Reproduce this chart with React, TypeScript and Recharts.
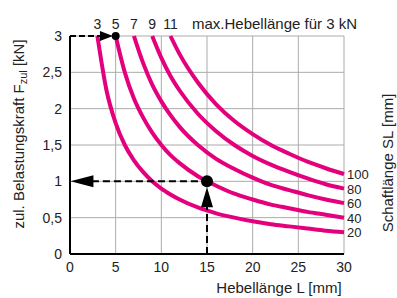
import {
  LineChart, Line, XAxis, YAxis, CartesianGrid,
  ReferenceLine, ReferenceDot, Label,
} from 'recharts'

// Hebellänge L [mm]
const LEVER = [3, 4, 5, 6, 7, 8, 9, 10, 11, 12, 14, 16, 18, 20, 22, 24, 26, 28, 30]

// zul. Belastungskraft per Schaftlänge SL
const SL20 = [3, 2.25, 1.8, 1.5, 1.29, 1.13, 1.0, 0.9, 0.82, 0.75, 0.64, 0.56, 0.5, 0.45, 0.41, 0.38, 0.35, 0.32, 0.3]
const SL40 = [null, null, 3, 2.5, 2.14, 1.88, 1.67, 1.5, 1.36, 1.25, 1.07, 0.94, 0.83, 0.75, 0.68, 0.63, 0.58, 0.54, 0.5]
const SL60 = [null, null, null, null, 3, 2.63, 2.33, 2.1, 1.91, 1.75, 1.5, 1.31, 1.17, 1.05, 0.95, 0.88, 0.81, 0.75, 0.7]
const SL80 = [null, null, null, null, null, null, 3, 2.7, 2.45, 2.25, 1.93, 1.69, 1.5, 1.35, 1.23, 1.13, 1.04, 0.96, 0.9]
const SL100 = [null, null, null, null, null, null, null, null, 3, 2.75, 2.36, 2.06, 1.83, 1.65, 1.5, 1.38, 1.27, 1.18, 1.1]

const SERIES = [
  { key: 's20', label: '20', values: SL20 },
  { key: 's40', label: '40', values: SL40 },
  { key: 's60', label: '60', values: SL60 },
  { key: 's80', label: '80', values: SL80 },
  { key: 's100', label: '100', values: SL100 },
]

// max. Hebellänge für 3 kN
const MAX_LEVER = [3, 5, 7, 9, 11]

const X_TICKS = [0, 5, 10, 15, 20, 25, 30]
const Y_TICKS = [0, 0.5, 1, 1.5, 2, 2.5, 3]

// worked example: L = 15 mm, SL = 40 -> 1 kN ; 3 kN -> L = 5 mm
const EXAMPLE = { x: 15, y: 1 }
const TOP_EXAMPLE = { x: 5, y: 3 }

const data = LEVER.map((x, i) => {
  const row: any = { x }
  SERIES.forEach((s) => { row[s.key] = s.values[i] })
  return row
})

const MAGENTA = '#e4007c'
const TEXT = '#222'
const FONT = '"Liberation Sans", Arial, sans-serif'
const tickStyle = { fontSize: 14, fill: TEXT, fontFamily: FONT }

const arrowRight = (p: any) => (
  <polygon points={`${p.cx},${p.cy} ${p.cx - 13},${p.cy - 5} ${p.cx - 13},${p.cy + 5}`} fill="#000" />
)
const arrowLeft = (p: any) => (
  <polygon points={`${p.cx},${p.cy} ${p.cx + 23},${p.cy - 6} ${p.cx + 23},${p.cy + 6}`} fill="#000" />
)
const arrowUp = (p: any) => (
  <polygon points={`${p.cx},${p.cy} ${p.cx - 6},${p.cy + 20} ${p.cx + 6},${p.cy + 20}`} fill="#000" />
)

// SL label at the right end of each curve
const endLabel = (text: string) => (p: any) => {
  if (p.index !== LEVER.length - 1) return null
  return (
    <text x={p.x + 3} y={p.y + 5} textAnchor="start" fontSize={13} fill={TEXT} fontFamily={FONT}>
      {text}
    </text>
  )
}

export default function App() {
  return (
    <div style={{ position: 'absolute', left: 0, top: 0, fontFamily: FONT }}>
      <LineChart
        width={397}
        height={298}
        data={data}
        margin={{ top: 16, right: 53, bottom: 20, left: 30 }}
      >
        <CartesianGrid stroke="#ababab" strokeWidth={1} />
        <XAxis
          dataKey="x"
          type="number"
          domain={[0, 30]}
          ticks={X_TICKS}
          tick={tickStyle}
          tickLine={false}
          axisLine={{ stroke: '#000', strokeWidth: 2 }}
          height={24}
        >
          <Label
            content={() => (
              <text x={279} y={293} textAnchor="middle" fontSize={15} fill={TEXT} fontFamily={FONT}>
                Hebellänge L [mm]
              </text>
            )}
          />
        </XAxis>
        <XAxis
          xAxisId="top"
          orientation="top"
          type="number"
          dataKey="x"
          domain={[0, 30]}
          ticks={MAX_LEVER}
          interval={0}
          tick={tickStyle}
          tickLine={false}
          axisLine={false}
          tickMargin={1}
          height={20}
        >
          <Label
            content={() => (
              <text x={192} y={29} textAnchor="start" fontSize={15} fill={TEXT} fontFamily={FONT}>
                max.Hebellänge für 3 kN
              </text>
            )}
          />
        </XAxis>
        <YAxis
          type="number"
          domain={[0, 3]}
          ticks={Y_TICKS}
          interval={0}
          tick={tickStyle}
          tickLine={false}
          axisLine={{ stroke: '#000', strokeWidth: 2 }}
          tickFormatter={(v) => String(v).replace('.', ',')}
          width={40}
        >
          <Label
            content={() => (
              <text transform="translate(24,134) rotate(-90)" textAnchor="middle" fontSize={15} fill={TEXT} fontFamily={FONT}>
                zul. Belastungskraft F<tspan fontSize={11} dy={3}>zul</tspan><tspan dy={-3}> [kN]</tspan>
              </text>
            )}
          />
        </YAxis>

        {SERIES.map((s) => (
          <Line
            key={s.key}
            dataKey={s.key}
            type="monotone"
            stroke={MAGENTA}
            strokeWidth={4}
            dot={false}
            activeDot={false}
            label={endLabel(s.label)}
            isAnimationActive={false}
          />
        ))}

        {/* worked example arrows */}
        <ReferenceLine
          segment={[{ x: 0, y: TOP_EXAMPLE.y }, { x: 3.4, y: TOP_EXAMPLE.y }]}
          stroke="#000" strokeWidth={2} strokeDasharray="6 3"
        />
        <ReferenceDot x={4.7} y={TOP_EXAMPLE.y} shape={arrowRight} />
        <ReferenceDot x={TOP_EXAMPLE.x} y={TOP_EXAMPLE.y} r={4} fill="#000" stroke="none" />

        <ReferenceLine
          segment={[{ x: 2.4, y: EXAMPLE.y }, { x: EXAMPLE.x, y: EXAMPLE.y }]}
          stroke="#000" strokeWidth={2} strokeDasharray="7 4"
        />
        <ReferenceLine
          segment={[{ x: EXAMPLE.x, y: 0 }, { x: EXAMPLE.x, y: 0.65 }]}
          stroke="#000" strokeWidth={2} strokeDasharray="7 4"
        />
        <ReferenceDot x={0.05} y={EXAMPLE.y} shape={arrowLeft} />
        <ReferenceDot x={EXAMPLE.x} y={0.92} shape={arrowUp} />
        <ReferenceDot x={EXAMPLE.x} y={EXAMPLE.y} r={6} fill="#000" stroke="none" />
      </LineChart>
      {/* right-hand axis title */}
      <svg width={397} height={298} style={{ position: 'absolute', left: 0, top: 0, pointerEvents: 'none' }}>
        <text transform="translate(393,163) rotate(-90)" textAnchor="middle" fontSize={15} fill={TEXT} fontFamily={FONT}>
          Schaftlänge SL [mm]
        </text>
      </svg>
    </div>
  )
}
